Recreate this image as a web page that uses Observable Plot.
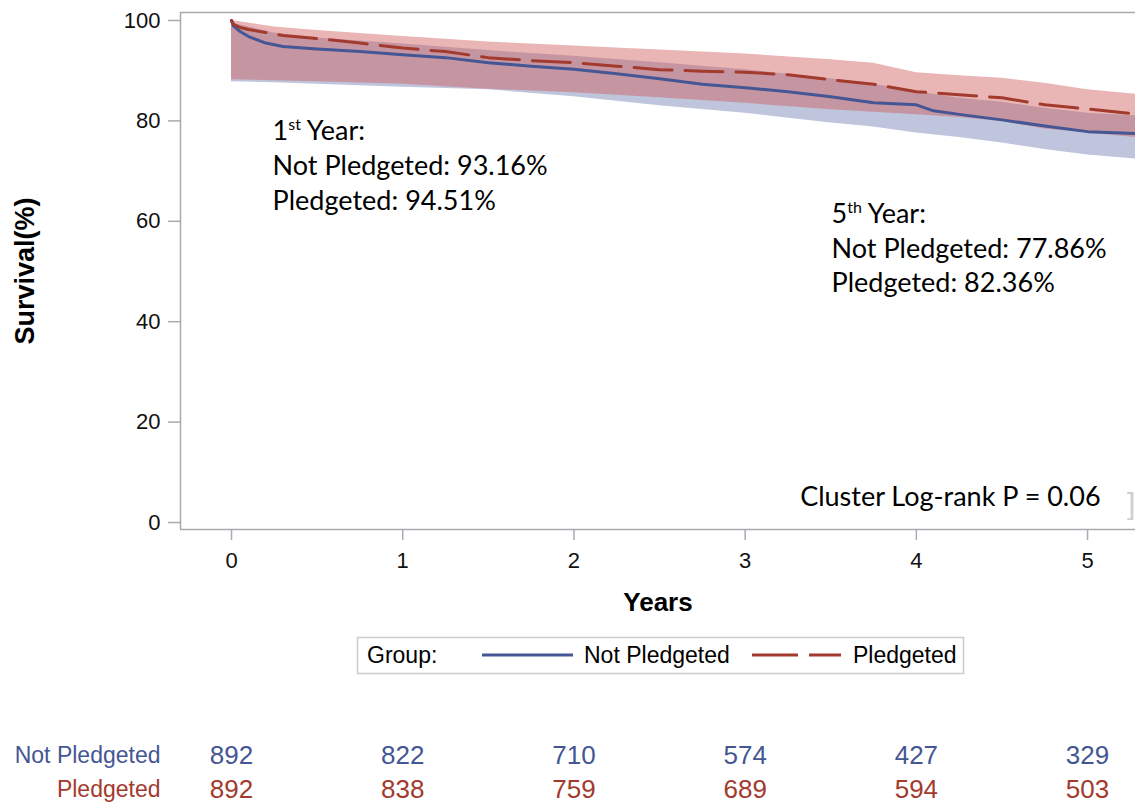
<!DOCTYPE html>
<html><head><meta charset="utf-8">
<script src="https://cdn.jsdelivr.net/npm/d3@7"></script>
<script src="https://cdn.jsdelivr.net/npm/@observablehq/plot@0.6"></script>
<style>
body{margin:0;background:#fff;}
#wrap{position:relative;width:1135px;height:803px;overflow:hidden;background:#fff;}
#legend{position:absolute;left:0;top:0;}
</style></head><body><div id="wrap"></div>
<script>
// ---- data ----
const lineTimes = [0, 0.01, 0.05, 0.1, 0.2, 0.3, 0.5, 0.75, 1, 1.25, 1.5, 1.75, 2, 2.25, 2.5, 2.75, 3, 3.25, 3.5, 3.75, 4, 4.1, 4.25, 4.5, 4.75, 5, 5.28];
const survNotPledgeted = [100, 99, 97.8, 96.8, 95.5, 94.8, 94.3, 93.8, 93.16, 92.6, 91.6, 90.9, 90.3, 89.4, 88.4, 87.3, 86.6, 85.8, 84.8, 83.6, 83.2, 82.0, 81.3, 80.2, 79.0, 77.86, 77.5];
const survPledgeted    = [100, 99.3, 98.6, 98.2, 97.6, 97.0, 96.4, 95.5, 94.51, 93.8, 92.6, 92.0, 91.6, 90.9, 90.2, 89.9, 89.7, 89.2, 88.2, 87.3, 85.8, 85.6, 85.2, 84.6, 83.2, 82.36, 81.4];

const bandTimes = [0, 0.25, 0.5, 1, 1.5, 2, 2.5, 3, 3.5, 3.75, 4, 4.25, 4.5, 4.75, 5, 5.28];
const npLower = [87.8, 87.6, 87.3, 86.7, 86.2, 84.8, 83.0, 81.5, 79.6, 78.8, 77.6, 76.7, 75.6, 74.3, 73.2, 72.4];
const npUpper = [99.5, 97.5, 96.5, 95.3, 94.0, 92.9, 91.6, 90.2, 88.4, 87.3, 85.8, 84.5, 83.7, 82.5, 81.5, 81.0];
const pLower  = [88.2, 88.0, 87.8, 87.3, 86.3, 85.6, 84.6, 83.5, 82.2, 81.7, 81.2, 80.7, 79.9, 78.4, 77.6, 76.7];
const pUpper  = [100, 98.7, 98.0, 96.8, 95.7, 94.9, 94.1, 93.3, 92.2, 91.5, 89.6, 89.0, 88.5, 87.5, 86.2, 85.3];

const riskTimes = [0, 1, 2, 3, 4, 5];
const riskNotPledgeted = [892, 822, 710, 574, 427, 329];
const riskPledgeted    = [892, 838, 759, 689, 594, 503];

const xTicks = [0, 1, 2, 3, 4, 5];
const yTicks = [0, 20, 40, 60, 80, 100];
const groups = ["Not Pledgeted", "Pledgeted"];
const anno1 = ["1st Year:", "Not Pledgeted: 93.16%", "Pledgeted: 94.51%"];
const anno5 = ["5th Year:", "Not Pledgeted: 77.86%", "Pledgeted: 82.36%"];
const pText = "Cluster Log-rank P = 0.06";

// ---- build tables ----
const npLine = lineTimes.map((t, i) => ({t, s: survNotPledgeted[i]}));
const pLine = lineTimes.map((t, i) => ({t, s: survPledgeted[i]}));
const npBand = bandTimes.map((t, i) => ({t, lo: npLower[i], hi: npUpper[i]}));
const pBand = bandTimes.map((t, i) => ({t, lo: pLower[i], hi: pUpper[i]}));
const riskNP = riskTimes.map((t, i) => ({t, n: riskNotPledgeted[i]}));
const riskP = riskTimes.map((t, i) => ({t, n: riskPledgeted[i]}));

const blue = "#445694", red = "#A23A2E", axisGray = "#a7abb0";
const xDomain = [-0.298, 5.28], yDomain = [-1.39, 101.59];
const sans = "'Liberation Sans', Arial, sans-serif";
const cal = "Lato, 'Open Sans', sans-serif";

const annoRows1 = anno1.map((text, i) => ({text, y: 76.1 - i * 6.95}));
const annoRows5 = anno5.map((text, i) => ({text, y: 59.6 - i * 6.85}));

const chart = Plot.plot({
  width: 1135, height: 803,
  marginLeft: 180, marginRight: 0, marginTop: 12, marginBottom: 274,
  x: {domain: xDomain},
  y: {domain: yDomain},
  style: {fontFamily: sans, fontSize: "22px", color: "#000", background: "#fff"},
  marks: [
    Plot.areaY(npBand, {x: "t", y1: "lo", y2: "hi", fill: "#6F7EB3", fillOpacity: 0.45}),
    Plot.areaY(pBand, {x: "t", y1: "lo", y2: "hi", fill: "#D05B5B", fillOpacity: 0.45}),
    Plot.line(npLine, {x: "t", y: "s", stroke: blue, strokeWidth: 3}),
    Plot.line(pLine, {x: "t", y: "s", stroke: red, strokeWidth: 3, strokeDasharray: "38,13"}),
    Plot.ruleX([xDomain[0]], {stroke: axisGray, strokeWidth: 1.5}),
    Plot.ruleY([yDomain[0], yDomain[1]], {stroke: axisGray, strokeWidth: 1.5}),
    Plot.axisX({ticks: xTicks, tickFormat: (d) => String(d), tickSize: 11, tickPadding: 12, stroke: axisGray, strokeWidth: 1.5, fill: "#111", fontSize: 22, label: null}),
    Plot.axisY({ticks: yTicks, tickFormat: (d) => String(d), tickSize: 12, tickPadding: 8, stroke: axisGray, strokeWidth: 1.5, fill: "#111", fontSize: 22, label: null}),
    // axis titles
    Plot.text(["Years"], {frameAnchor: "bottom", dy: 73, textAnchor: "middle", lineAnchor: "middle", fontWeight: "bold", fontSize: 26, fill: "#000"}),
    Plot.text(["Survival(%)"], {frameAnchor: "left", dx: -155, rotate: -90, textAnchor: "middle", lineAnchor: "middle", fontWeight: "bold", fontSize: 27, fill: "#000"}),
    // annotations
    Plot.text(annoRows1, {x: 0.24, y: "y", text: "text", textAnchor: "start", lineAnchor: "bottom", fontFamily: cal, fontSize: 27, fill: "#000"}),
    Plot.text(annoRows5, {x: 3.505, y: "y", text: "text", textAnchor: "start", lineAnchor: "bottom", fontFamily: cal, fontSize: 27, fill: "#000"}),
    Plot.text([pText], {x: 5.076, y: 3.2, textAnchor: "end", lineAnchor: "bottom", fontFamily: cal, fontSize: 27, fill: "#000"}),
    Plot.text(["]"], {x: 5.255, y: 3.6, lineAnchor: "middle", fontSize: 30, fontWeight: 300, fill: "#cfcfcf"}),
    // at-risk table
    Plot.text([groups[0]], {frameAnchor: "bottom-left", dx: -20, dy: 226, textAnchor: "end", lineAnchor: "middle", fontSize: 23, fill: blue}),
    Plot.text([groups[1]], {frameAnchor: "bottom-left", dx: -20, dy: 260, textAnchor: "end", lineAnchor: "middle", fontSize: 23, fill: red}),
    Plot.text(riskNP, {x: "t", frameAnchor: "bottom", dy: 226, text: "n", lineAnchor: "middle", fontSize: 26, fill: blue}),
    Plot.text(riskP, {x: "t", frameAnchor: "bottom", dy: 260, text: "n", lineAnchor: "middle", fontSize: 26, fill: red})
  ]
});

// superscripts for "1st" / "5th"
d3.select(chart).selectAll("text").each(function () {
  const s = this.textContent;
  const m = /^(\d)(st|th)( Year:)$/.exec(s);
  if (!m || this.children.length) return;
  const el = d3.select(this);
  el.text(null);
  el.append("tspan").text(m[1]);
  el.append("tspan").attr("dy", -10).attr("font-size", 16).text(m[2]);
  el.append("tspan").attr("dy", 10).text(m[3]);
});

const wrap = document.getElementById("wrap");
wrap.appendChild(chart);

// legend
const lg = d3.select(wrap).append("svg").attr("id", "legend").attr("width", 1135).attr("height", 803)
  .style("font-family", sans).style("font-size", "23px");
lg.append("rect").attr("x", 357.5).attr("y", 637.5).attr("width", 606).attr("height", 36)
  .attr("fill", "#fff").attr("stroke", "#cccccc").attr("stroke-width", 1.5);
lg.append("text").attr("x", 367).attr("y", 655).attr("dy", "0.35em").text("Group:");
lg.append("line").attr("x1", 482).attr("x2", 573).attr("y1", 655).attr("y2", 655).attr("stroke", blue).attr("stroke-width", 3);
lg.append("text").attr("x", 584).attr("y", 655).attr("dy", "0.35em").text(groups[0]);
lg.append("line").attr("x1", 752).attr("x2", 841).attr("y1", 655).attr("y2", 655).attr("stroke", red).attr("stroke-width", 3).attr("stroke-dasharray", "46,11");
lg.append("text").attr("x", 853).attr("y", 655).attr("dy", "0.35em").text(groups[1]);
</script></body></html>
